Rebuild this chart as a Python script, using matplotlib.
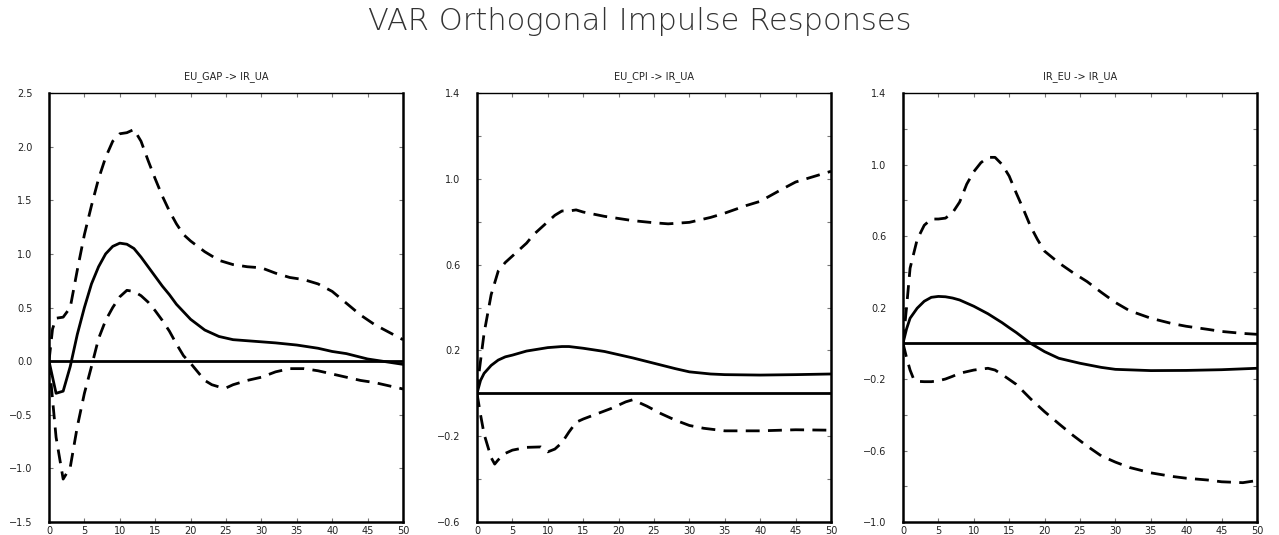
import matplotlib
matplotlib.use("Agg")
import matplotlib.pyplot as plt
import numpy as np

# panel 1: EU_GAP -> IR_UA
x1 = [0, 1, 2, 3, 4, 5, 6, 7, 8, 9, 10, 11, 12, 13, 14, 15, 16, 17, 18, 19, 20,
      22, 24, 26, 28, 30, 32, 35, 38, 40, 42, 45, 48, 50]
resp1 = [0.0, -0.30, -0.28, -0.05, 0.25, 0.50, 0.72, 0.88, 1.00, 1.07, 1.10, 1.09, 1.05,
         0.97, 0.88, 0.79, 0.70, 0.62, 0.53, 0.46, 0.39,
         0.29, 0.23, 0.20, 0.19, 0.18, 0.17, 0.15, 0.12, 0.09, 0.07, 0.02, -0.01, -0.03]
x1u = [0, 0.5, 1, 2, 3, 4, 5, 6, 7, 8, 9, 10, 11, 12, 13, 14, 15, 16, 17, 18, 19, 20,
       22, 24, 26, 28, 30, 32, 34, 36, 38, 40, 42, 44, 46, 48, 50]
upper1 = [0.0, 0.30, 0.40, 0.41, 0.50, 0.85, 1.18, 1.45, 1.70, 1.90, 2.05, 2.12, 2.13, 2.16,
          2.05, 1.87, 1.70, 1.54, 1.40, 1.28, 1.18, 1.12,
          1.02, 0.94, 0.90, 0.88, 0.87, 0.82, 0.78, 0.76, 0.72, 0.65, 0.54, 0.43, 0.34, 0.27, 0.20]
x1l = [0, 1, 2, 3, 4, 5, 6, 7, 8, 9, 10, 11, 12, 13, 14, 15, 16, 17, 18, 19, 20,
       21, 22, 23, 24, 25, 26, 28, 30, 32, 34, 36, 38, 40, 42, 44, 46, 48, 50]
lower1 = [0.0, -0.71, -1.10, -0.99, -0.61, -0.30, -0.05, 0.21, 0.38, 0.50, 0.60, 0.66, 0.65,
          0.61, 0.55, 0.47, 0.38, 0.28, 0.16, 0.05, -0.02,
          -0.10, -0.18, -0.22, -0.24, -0.25, -0.22, -0.18, -0.15, -0.10, -0.07, -0.07, -0.09,
          -0.12, -0.15, -0.18, -0.20, -0.23, -0.26]

# panel 2: EU_CPI -> IR_UA
x2 = [0, 0.5, 1, 2, 3, 4, 5, 7, 10, 12, 13, 15, 18, 20, 22, 25, 28, 30, 33, 35, 40, 45, 50]
resp2 = [0.0, 0.06, 0.093, 0.13, 0.155, 0.17, 0.178, 0.197, 0.213, 0.218, 0.218, 0.21,
         0.195, 0.18, 0.165, 0.14, 0.115, 0.10, 0.09, 0.087, 0.085, 0.087, 0.09]
x2u = [0, 0.3, 1, 2, 3, 4, 5, 6, 7, 8, 9, 10, 11, 12, 13, 14, 15, 18, 20, 22, 25, 27, 30,
       33, 35, 38, 40, 43, 45, 48, 50]
upper2 = [0.0, 0.10, 0.28, 0.46, 0.57, 0.61, 0.64, 0.67, 0.70, 0.74, 0.77, 0.80, 0.83, 0.85,
          0.85, 0.855, 0.845, 0.825, 0.815, 0.805, 0.795, 0.79, 0.797,
          0.82, 0.84, 0.875, 0.895, 0.95, 0.985, 1.015, 1.035]
x2l = [0, 0.5, 1, 2, 2.5, 3, 4, 5, 7, 9, 10, 11, 12, 13, 14, 15, 17, 19, 20, 21, 22,
       24, 26, 28, 30, 32, 35, 40, 45, 50]
lower2 = [0.0, -0.10, -0.19, -0.30, -0.33, -0.31, -0.28, -0.265, -0.252, -0.25, -0.273,
          -0.26, -0.23, -0.18, -0.135, -0.12, -0.095, -0.07, -0.055, -0.04, -0.03,
          -0.06, -0.095, -0.125, -0.15, -0.163, -0.175, -0.175, -0.17, -0.172]

# panel 3: IR_EU -> IR_UA
x3 = [0, 0.5, 1, 2, 3, 4, 5, 6, 7, 8, 10, 12, 14, 15, 16, 17, 18, 20, 22, 25, 28, 30,
      35, 40, 45, 50]
resp3 = [0.0, 0.08, 0.14, 0.196, 0.235, 0.257, 0.262, 0.26, 0.253, 0.242, 0.207, 0.165,
         0.115, 0.087, 0.06, 0.03, 0.0, -0.047, -0.084, -0.112, -0.135, -0.146,
         -0.153, -0.152, -0.148, -0.14]
x3u = [0, 0.5, 1, 2, 3, 4, 5, 6, 7, 8, 9, 10, 11, 12, 13, 14, 15, 16, 17, 18, 19, 20,
       22, 24, 26, 28, 30, 32, 35, 38, 40, 43, 45, 48, 50]
upper3 = [0.0, 0.20, 0.42, 0.58, 0.66, 0.695, 0.695, 0.70, 0.73, 0.79, 0.89, 0.96, 1.01,
          1.04, 1.04, 1.00, 0.935, 0.84, 0.75, 0.655, 0.58, 0.515,
          0.45, 0.395, 0.345, 0.285, 0.228, 0.182, 0.14, 0.11, 0.095, 0.078, 0.066, 0.055, 0.05]
x3l = [0, 0.5, 1, 1.5, 2, 3, 4, 5, 6, 7, 8, 10, 12, 13, 14, 16, 18, 20, 22, 24, 26, 28,
       30, 32, 35, 38, 40, 43, 45, 48, 50]
lower3 = [0.0, -0.08, -0.15, -0.20, -0.213, -0.215, -0.215, -0.21, -0.20, -0.185, -0.168,
          -0.15, -0.14, -0.15, -0.175, -0.23, -0.31, -0.383, -0.45, -0.515, -0.575, -0.63,
          -0.665, -0.695, -0.725, -0.745, -0.755, -0.765, -0.775, -0.78, -0.768]

titles = ["EU_GAP -> IR_UA", "EU_CPI -> IR_UA", "IR_EU -> IR_UA"]
ylims = [(-1.5, 2.5), (-0.6, 1.4), (-1.0, 1.4)]
yticks = [np.arange(-1.5, 2.51, 0.5), np.arange(-0.6, 1.41, 0.4), np.arange(-1.0, 1.41, 0.4)]
yminor = [[], np.arange(-0.4, 1.3, 0.4), np.arange(-0.8, 1.3, 0.4)]

panels = [
    (x1, resp1, x1u, upper1, x1l, lower1),
    (x2, resp2, x2u, upper2, x2l, lower2),
    (x3, resp3, x3u, upper3, x3l, lower3),
]

lefts = [49 / 1279, 477 / 1279, 903 / 1279]
width = 354 / 1279
bottom = 1 - 522 / 535
height = (522 - 93) / 535

fig = plt.figure(figsize=(12.79, 5.35), dpi=100)
fig.suptitle("VAR Orthogonal Impulse Responses", y=1 - 21 / 535, va="center",
             fontsize=22, fontweight="light", color="#333333")

for i in range(3):
    ax = fig.add_axes([lefts[i], bottom, width, height])
    xr, r, xu, u, xl, l = panels[i]
    ax.axhline(0, color="black", lw=2.0)
    ax.plot(xr, r, color="black", lw=2.0)
    ax.plot(xu, u, color="black", lw=2.0, dashes=(5, 3))
    ax.plot(xl, l, color="black", lw=2.0, dashes=(5, 3))
    ax.set_xlim(0, 50)
    ax.set_ylim(*ylims[i])
    ax.set_xticks(np.arange(0, 51, 5))
    ax.set_yticks(yticks[i])
    ax.set_yticklabels([("%.1f" % v).replace("-", "\u2212") for v in yticks[i]])
    ax.set_yticks(yminor[i], minor=True)
    ax.tick_params(which="both", direction="in", length=3, width=0.8, color="#777777",
                   top=True, right=True, labelsize=7, labelcolor="#222222")
    ax.tick_params(axis="y", pad=12)
    ax.tick_params(axis="x", pad=3)
    ax.set_title(titles[i], fontsize=7, pad=10, color="#222222")
    for s in ["left", "bottom", "right"]:
        ax.spines[s].set_linewidth(1.8)
    ax.spines["top"].set_linewidth(1.0)

fig.savefig("out.png", dpi=100)
